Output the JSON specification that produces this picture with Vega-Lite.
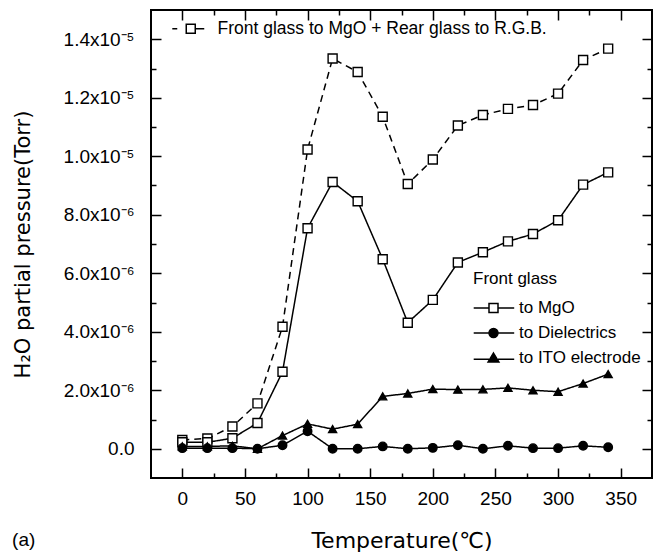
{
  "$schema": "https://vega.github.io/schema/vega-lite/v6.json",
  "width": 501,
  "height": 468,
  "autosize": "none",
  "padding": {"left": 151, "top": 10, "right": 7, "bottom": 75},
  "background": "white",
  "config": {
    "view": {"stroke": "black", "strokeWidth": 2},
    "font": "Liberation Sans",
    "axis": {"labelColor": "black", "titleColor": "black", "tickColor": "black", "grid": false, "domain": false, "labelFont": "Liberation Sans", "titleFont": "DejaVu Sans"},
    "legend": {"labelColor": "black", "titleColor": "black", "labelFont": "Liberation Sans", "titleFont": "Liberation Sans", "labelFontSize": 17, "titleFontSize": 17, "titleFontWeight": "normal", "padding": 0, "labelLimit": 0}
  },
  "title": {"text": "(a)", "orient": "bottom", "anchor": "start", "frame": "bounds", "fontSize": 19, "fontWeight": "normal", "color": "black", "font": "Liberation Sans", "offset": -20},
  "data": {"values": [
    {"T": 0, "P": 3.0e-7, "s": "Front glass to MgO + Rear glass to R.G.B."},
    {"T": 20, "P": 3.5e-7, "s": "Front glass to MgO + Rear glass to R.G.B."},
    {"T": 40, "P": 7.6e-7, "s": "Front glass to MgO + Rear glass to R.G.B."},
    {"T": 60, "P": 1.55e-6, "s": "Front glass to MgO + Rear glass to R.G.B."},
    {"T": 80, "P": 4.17e-6, "s": "Front glass to MgO + Rear glass to R.G.B."},
    {"T": 100, "P": 1.023e-5, "s": "Front glass to MgO + Rear glass to R.G.B."},
    {"T": 120, "P": 1.334e-5, "s": "Front glass to MgO + Rear glass to R.G.B."},
    {"T": 140, "P": 1.288e-5, "s": "Front glass to MgO + Rear glass to R.G.B."},
    {"T": 160, "P": 1.135e-5, "s": "Front glass to MgO + Rear glass to R.G.B."},
    {"T": 180, "P": 9.05e-6, "s": "Front glass to MgO + Rear glass to R.G.B."},
    {"T": 200, "P": 9.89e-6, "s": "Front glass to MgO + Rear glass to R.G.B."},
    {"T": 220, "P": 1.105e-5, "s": "Front glass to MgO + Rear glass to R.G.B."},
    {"T": 240, "P": 1.141e-5, "s": "Front glass to MgO + Rear glass to R.G.B."},
    {"T": 260, "P": 1.162e-5, "s": "Front glass to MgO + Rear glass to R.G.B."},
    {"T": 280, "P": 1.175e-5, "s": "Front glass to MgO + Rear glass to R.G.B."},
    {"T": 300, "P": 1.214e-5, "s": "Front glass to MgO + Rear glass to R.G.B."},
    {"T": 320, "P": 1.329e-5, "s": "Front glass to MgO + Rear glass to R.G.B."},
    {"T": 340, "P": 1.368e-5, "s": "Front glass to MgO + Rear glass to R.G.B."},
    {"T": 0, "P": 2.2e-7, "s": "to MgO"},
    {"T": 20, "P": 2.2e-7, "s": "to MgO"},
    {"T": 40, "P": 3.6e-7, "s": "to MgO"},
    {"T": 60, "P": 8.8e-7, "s": "to MgO"},
    {"T": 80, "P": 2.63e-6, "s": "to MgO"},
    {"T": 100, "P": 7.54e-6, "s": "to MgO"},
    {"T": 120, "P": 9.12e-6, "s": "to MgO"},
    {"T": 140, "P": 8.46e-6, "s": "to MgO"},
    {"T": 160, "P": 6.48e-6, "s": "to MgO"},
    {"T": 180, "P": 4.31e-6, "s": "to MgO"},
    {"T": 200, "P": 5.09e-6, "s": "to MgO"},
    {"T": 220, "P": 6.37e-6, "s": "to MgO"},
    {"T": 240, "P": 6.72e-6, "s": "to MgO"},
    {"T": 260, "P": 7.09e-6, "s": "to MgO"},
    {"T": 280, "P": 7.34e-6, "s": "to MgO"},
    {"T": 300, "P": 7.81e-6, "s": "to MgO"},
    {"T": 320, "P": 9.03e-6, "s": "to MgO"},
    {"T": 340, "P": 9.45e-6, "s": "to MgO"},
    {"T": 0, "P": 2.0e-8, "s": "to Dielectrics"},
    {"T": 20, "P": 2.0e-8, "s": "to Dielectrics"},
    {"T": 40, "P": 2.0e-8, "s": "to Dielectrics"},
    {"T": 60, "P": 0.0, "s": "to Dielectrics"},
    {"T": 80, "P": 1.2e-7, "s": "to Dielectrics"},
    {"T": 100, "P": 6.0e-7, "s": "to Dielectrics"},
    {"T": 120, "P": 0.0, "s": "to Dielectrics"},
    {"T": 140, "P": 0.0, "s": "to Dielectrics"},
    {"T": 160, "P": 8.0e-8, "s": "to Dielectrics"},
    {"T": 180, "P": 0.0, "s": "to Dielectrics"},
    {"T": 200, "P": 3.0e-8, "s": "to Dielectrics"},
    {"T": 220, "P": 1.2e-7, "s": "to Dielectrics"},
    {"T": 240, "P": 0.0, "s": "to Dielectrics"},
    {"T": 260, "P": 1.0e-7, "s": "to Dielectrics"},
    {"T": 280, "P": 2.0e-8, "s": "to Dielectrics"},
    {"T": 300, "P": 2.0e-8, "s": "to Dielectrics"},
    {"T": 320, "P": 1.0e-7, "s": "to Dielectrics"},
    {"T": 340, "P": 5.0e-8, "s": "to Dielectrics"},
    {"T": 0, "P": 8.0e-8, "s": "to ITO electrode"},
    {"T": 20, "P": 8.0e-8, "s": "to ITO electrode"},
    {"T": 40, "P": 1.0e-7, "s": "to ITO electrode"},
    {"T": 60, "P": 0.0, "s": "to ITO electrode"},
    {"T": 80, "P": 4.5e-7, "s": "to ITO electrode"},
    {"T": 100, "P": 8.5e-7, "s": "to ITO electrode"},
    {"T": 120, "P": 6.7e-7, "s": "to ITO electrode"},
    {"T": 140, "P": 8.4e-7, "s": "to ITO electrode"},
    {"T": 160, "P": 1.79e-6, "s": "to ITO electrode"},
    {"T": 180, "P": 1.89e-6, "s": "to ITO electrode"},
    {"T": 200, "P": 2.04e-6, "s": "to ITO electrode"},
    {"T": 220, "P": 2.02e-6, "s": "to ITO electrode"},
    {"T": 240, "P": 2.03e-6, "s": "to ITO electrode"},
    {"T": 260, "P": 2.08e-6, "s": "to ITO electrode"},
    {"T": 280, "P": 2.0e-6, "s": "to ITO electrode"},
    {"T": 300, "P": 1.95e-6, "s": "to ITO electrode"},
    {"T": 320, "P": 2.23e-6, "s": "to ITO electrode"},
    {"T": 340, "P": 2.55e-6, "s": "to ITO electrode"}
  ]},
  "layer": [
    {
      "mark": {"type": "line", "color": "black", "strokeWidth": 1.5},
      "encoding": {
        "x": {"field": "T", "type": "quantitative", "scale": {"domain": [-25, 375], "nice": false, "zero": false},
          "axis": {"orient": "bottom", "values": [0, 25, 50, 75, 100, 125, 150, 175, 200, 225, 250, 275, 300, 325, 350],
            "labelExpr": "datum.value % 50 === 0 ? datum.label : ''",
            "tickSize": {"condition": {"test": "datum.value % 50 === 0", "value": -10}, "value": -5},
            "tickWidth": 1.5, "labelFontSize": 19, "labelPadding": 21, "labelFlush": false,
            "title": "Temperature(℃)", "titleFontSize": 22, "titleFontWeight": "normal", "titlePadding": 22}},
        "y": {"field": "P", "type": "quantitative", "scale": {"domain": [-1e-6, 1.5e-5], "nice": false, "zero": false},
          "axis": {"orient": "left", "values": [0, 1e-6, 2e-6, 3e-6, 4e-6, 5e-6, 6e-6, 7e-6, 8e-6, 9e-6, 1e-5, 1.1e-5, 1.2e-5, 1.3e-5, 1.4e-5],
            "labelExpr": "round(datum.value*1e6) % 2 !== 0 ? '' : (abs(datum.value) < 1e-9 ? '0.0' : (datum.value < 9.9e-6 ? format(datum.value*1e6, '.1f') + 'x10⁻⁶' : format(datum.value*1e5, '.1f') + 'x10⁻⁵'))",
            "tickSize": {"condition": {"test": "round(datum.value*1e6) % 2 === 0", "value": -10}, "value": -5},
            "tickWidth": 1.5, "labelFontSize": 19, "labelPadding": 27, "labelFlush": false,
            "title": "H₂O partial pressure(Torr)", "titleFontSize": 21, "titleFontWeight": "normal", "titlePadding": 30}},
        "detail": {"field": "s", "type": "nominal"},
        "strokeDash": {"field": "s", "type": "nominal", "legend": null,
          "scale": {"domain": ["Front glass to MgO + Rear glass to R.G.B.", "to MgO", "to Dielectrics", "to ITO electrode"], "range": [[7, 5], [1, 0], [1, 0], [1, 0]]}}
      }
    },
    {
      "transform": [{"filter": "datum.s === 'Front glass to MgO + Rear glass to R.G.B.'"}],
      "mark": {"type": "point", "shape": "square", "filled": true, "fill": "white", "stroke": "black", "strokeWidth": 1.4, "size": 81, "opacity": 1},
      "encoding": {
        "x": {"field": "T", "type": "quantitative",
          "axis": {"orient": "top", "values": [0, 25, 50, 75, 100, 125, 150, 175, 200, 225, 250, 275, 300, 325, 350], "labels": false, "title": null,
            "tickSize": {"condition": {"test": "datum.value % 50 === 0", "value": -10}, "value": -5}, "tickWidth": 1.5}},
        "y": {"field": "P", "type": "quantitative",
          "axis": {"orient": "right", "values": [0, 1e-6, 2e-6, 3e-6, 4e-6, 5e-6, 6e-6, 7e-6, 8e-6, 9e-6, 1e-5, 1.1e-5, 1.2e-5, 1.3e-5, 1.4e-5], "labels": false, "title": null,
            "tickSize": {"condition": {"test": "round(datum.value*1e6) % 2 === 0", "value": -10}, "value": -5}, "tickWidth": 1.5}}
      }
    },
    {
      "transform": [{"filter": "datum.s !== 'Front glass to MgO + Rear glass to R.G.B.'"}],
      "mark": {"type": "point", "filled": true, "stroke": "black", "strokeWidth": 1.4, "opacity": 1},
      "encoding": {
        "x": {"field": "T", "type": "quantitative", "axis": null},
        "y": {"field": "P", "type": "quantitative", "axis": null},
        "shape": {"field": "s", "type": "nominal", "legend": null,
          "scale": {"domain": ["to MgO", "to Dielectrics", "to ITO electrode"], "range": ["square", "circle", "triangle-up"]}},
        "fill": {"field": "s", "type": "nominal", "legend": null,
          "scale": {"domain": ["to MgO", "to Dielectrics", "to ITO electrode"], "range": ["white", "black", "black"]}},
        "size": {"field": "s", "type": "nominal", "legend": null,
          "scale": {"domain": ["to MgO", "to Dielectrics", "to ITO electrode"], "range": [81, 64, 75]}}
      }
    },
    {
      "transform": [{"filter": "datum.T < -1000"}],
      "mark": {"type": "point", "filled": true, "fill": "white", "stroke": "black", "strokeWidth": 1.4, "opacity": 1},
      "encoding": {
        "x": {"field": "T", "type": "quantitative", "axis": null},
        "y": {"field": "P", "type": "quantitative", "axis": null},
        "shape": {"field": "s", "type": "nominal",
          "scale": {"domain": ["Front glass to MgO + Rear glass to R.G.B."], "range": ["M-4.1,0H-3M-1,-1H1V1H-1ZM1,0H3"]},
          "legend": {"orient": "none", "legendX": 20, "legendY": 10, "title": null, "symbolSize": 81, "symbolOffset": 11, "labelOffset": 18, "labelFontSize": 17.5}}
      }
    },
    {
      "transform": [{"filter": "datum.T < -1000"}],
      "mark": {"type": "point", "filled": true, "stroke": "black", "strokeWidth": 1.4, "opacity": 1},
      "encoding": {
        "x": {"field": "T", "type": "quantitative", "axis": null},
        "y": {"field": "P", "type": "quantitative", "axis": null},
        "shape": {"field": "s", "type": "nominal",
          "scale": {"domain": ["to MgO", "to Dielectrics", "to ITO electrode"], "range": ["M-4.4,0H-1M-1,-1H1V1H-1ZM1,0H4.6", "M-4.4,0H-1M1,0H4.6M1,0A1,1,0,1,1,-1,0A1,1,0,1,1,1,0Z", "M-4.4,0.3H-1M1,0.3H4.6M0,-1.1L1.2,0.9H-1.2Z"]},
          "legend": {"orient": "none", "legendX": 322, "legendY": 261, "title": "Front glass", "titlePadding": 11.5, "rowPadding": 7, "symbolSize": 81, "symbolOffset": 12, "labelOffset": 17}},
        "fill": {"field": "s", "type": "nominal",
          "scale": {"domain": ["to MgO", "to Dielectrics", "to ITO electrode"], "range": ["white", "black", "black"]},
          "legend": {"orient": "none", "legendX": 322, "legendY": 261, "title": "Front glass", "titlePadding": 11.5, "rowPadding": 7, "symbolSize": 81, "symbolOffset": 12, "labelOffset": 17}}
      }
    }
  ],
  "resolve": {
    "axis": {"x": "independent", "y": "independent"},
    "scale": {"shape": "independent", "fill": "independent"},
    "legend": {"shape": "independent", "fill": "independent"}
  }
}
